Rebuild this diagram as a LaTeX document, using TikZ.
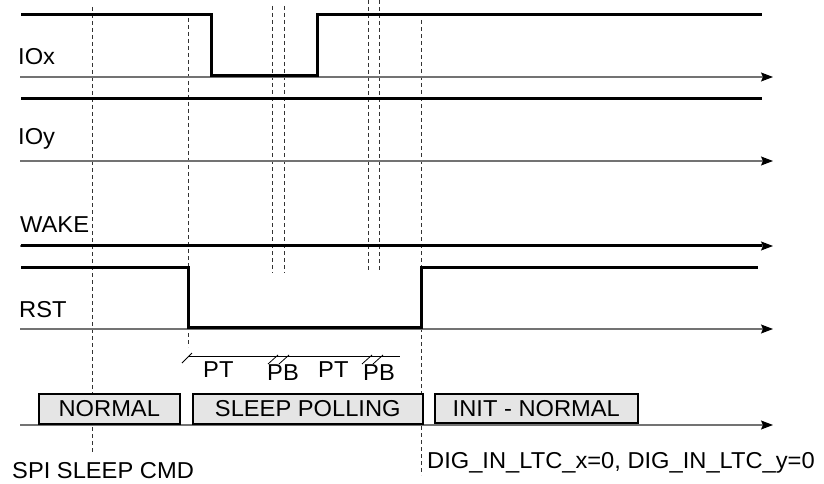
\documentclass[tikz,border=0pt]{standalone}
\usepackage{fontspec}
\setmainfont{Liberation Sans}[FakeStretch=1.03]
\usetikzlibrary{arrows.meta}
\begin{document}
\begin{tikzpicture}[x=1pt,y=-1pt,
  sig/.style={line width=3pt, line join=miter, line cap=butt},
  axisln/.style={draw=black!55, line width=1.2pt, -{Stealth[length=12pt,width=9pt,inset=2pt,black]}},
  vdash/.style={draw=black!80, line width=0.8pt, dash pattern=on 4pt off 3pt},
  lbl/.style={anchor=base west, inner sep=0pt, font=\fontsize{23}{25}\selectfont},
  statebox/.style={draw=black, line width=1.6pt, fill=black!10, anchor=north west, inner sep=0pt, font=\fontsize{23}{25}\selectfont},
  tick/.style={line width=0.8pt}
]
\useasboundingbox (0,0) rectangle (824,484);

% dashed vertical markers
\draw[vdash] (92,7) -- (92,452);
\draw[vdash] (188,18) -- (188,347);
\draw[vdash] (272,6) -- (272,273);
\draw[vdash] (284,6) -- (284,273);
\draw[vdash] (368,0) -- (368,270);
\draw[vdash] (379,0) -- (379,270);
\draw[vdash] (421,20) -- (421,475);

% axes
\coordinate (ax1s) at (20,77);  \coordinate (ax1e) at (773,77);
\coordinate (ax2s) at (20,161); \coordinate (ax2e) at (773,161);
\coordinate (ax3s) at (20,246); \coordinate (ax3e) at (773,246);
\coordinate (ax4s) at (20,329); \coordinate (ax4e) at (773,329);
\coordinate (ax5s) at (20,425); \coordinate (ax5e) at (773,425);
\draw[axisln] (ax1s) -- (ax1e);
\draw[axisln] (ax2s) -- (ax2e);
\draw[axisln] (ax3s) -- (ax3e);
\draw[axisln] (ax4s) -- (ax4e);
\draw[axisln] (ax5s) -- (ax5e);

% waveforms
\draw[sig] (21,15) -- (211,15) -- (211,75.5) -- (317,75.5) -- (317,15) -- (762,15);
\draw[sig] (21,99) -- (762,99);
\draw[sig] (21,245.5) -- (762,245.5);
\draw[sig] (21,267) -- (188,267) -- (188,327) -- (421,327) -- (421,267) -- (758,267);

% signal labels
\node[lbl] (lIOx) at (18,65) {IOx};
\node[lbl] (lIOy) at (18,145) {IOy};
\node[lbl] (lWAKE) at (20,232) {WAKE};
\node[lbl] (lRST) at (19,317) {RST};

% PT / PB timing line
\coordinate (ts) at (188,356);
\coordinate (te) at (400,356);
\draw[tick] (ts) -- (te);
\draw[tick] (182,363) -- (192,353);
\draw[tick] (268,364) -- (278,355);
\draw[tick] (279,364) -- (289,355);
\draw[tick] (362,364) -- (372,355);
\draw[tick] (373,364) -- (383,355);
\node[lbl] (pt1) at (203,377) {PT};
\node[lbl] (pb1) at (267,380) {PB};
\node[lbl] (pt2) at (318,377) {PT};
\node[lbl] (pb2) at (363,380) {PB};

% state boxes
\node[statebox, minimum width=141pt, minimum height=30pt] (bnormal) at (38,393) {NORMAL};
\node[statebox, minimum width=230pt, minimum height=30pt] (bsleep) at (192,393) {SLEEP POLLING};
\node[statebox, minimum width=203pt, minimum height=29pt] (binit) at (434,393) {INIT - NORMAL};

% bottom labels
\node[lbl] (spi) at (12,478) {SPI SLEEP CMD};
\node[lbl] (dig) at (427,468) {DIG\_IN\_LTC\_x=0, DIG\_IN\_LTC\_y=0};
\end{tikzpicture}
\end{document}
